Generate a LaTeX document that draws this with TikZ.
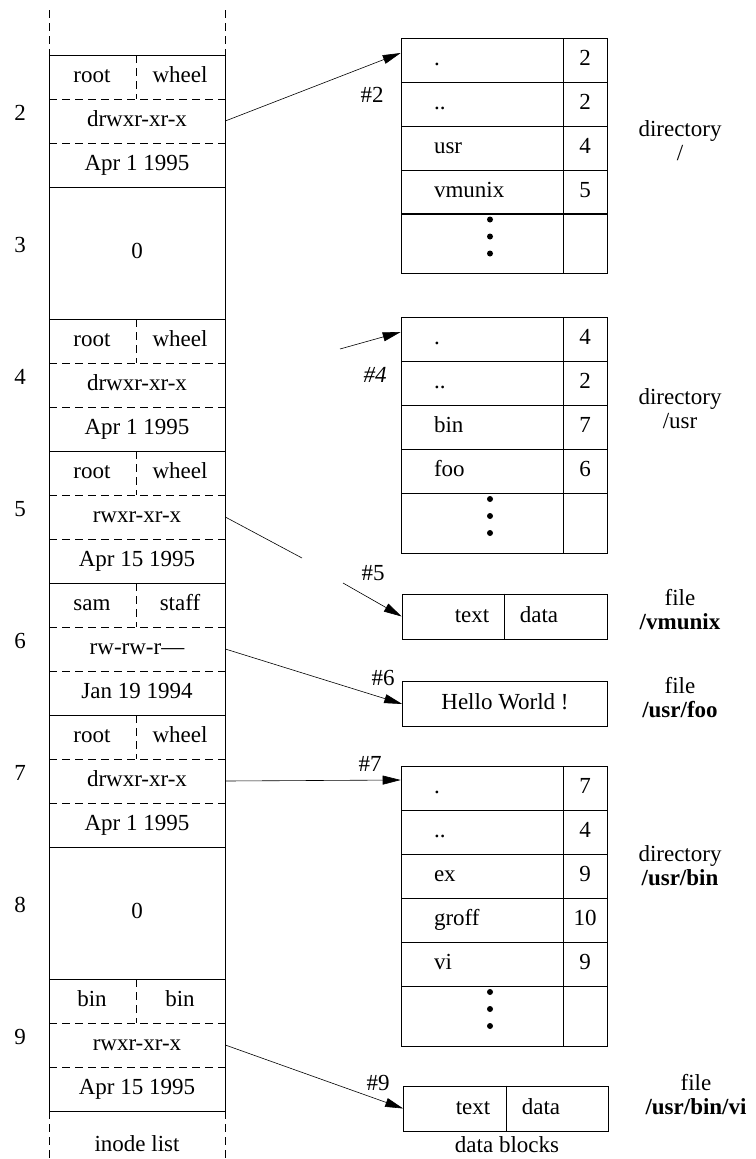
\documentclass[tikz,border=0pt]{standalone}
\usepackage{fontspec}
\setmainfont{Liberation Serif}
\usetikzlibrary{arrows.meta}

\begin{document}
\begin{tikzpicture}[
    x=1pt, y=-1pt,
    font=\fontsize{23}{27}\selectfont,
    line width=0.6pt,
    >={Triangle[length=18pt,width=9pt]},
    txt/.style={
        inner sep=0pt,
        text height=16pt,
        text depth=5pt
    },
    inode/.style={
        draw,
        txt,
        minimum width=176pt,
        minimum height=132pt
    },
    sep/.style={dash pattern=on 8pt off 5pt},
    dname/.style={
        draw,
        txt,
        inner xsep=33pt,
        text width=96pt,
        minimum height=44pt,
        align=left
    },
    dnum/.style={
        draw,
        txt,
        minimum width=44pt,
        minimum height=44pt
    },
    dmore/.style={draw, minimum width=162pt, minimum height=60pt},
    dnummore/.style={draw, minimum width=44pt, minimum height=60pt},
    fblock/.style={
        draw,
        txt,
        minimum width=205pt,
        minimum height=45pt
    },
    lbl/.style={
        align=center,
        inner sep=0pt,
        font=\fontsize{23}{24}\selectfont
    },
    arr/.style={->}
]
\useasboundingbox (0,0) rectangle (755,1159);

% inode list
\node[inode] (ino2) at (137,121) {};
\node[inode] (ino3) at (137,253) {0};
\node[inode] (ino4) at (137,385) {};
\node[inode] (ino5) at (137,517) {};
\node[inode] (ino6) at (137,649) {};
\node[inode] (ino7) at (137,781) {};
\node[inode] (ino8) at (137,913) {0};
\node[inode] (ino9) at (137,1045) {};

\draw[sep] (49,10) -- (49,55);
\draw[sep] (225,10) -- (225,55);
\draw[sep] (49,1111) -- (49,1159);
\draw[sep] (225,1111) -- (225,1159);

% field separators
\draw[sep] (49,99) -- (225,99);
\draw[sep] (49,143) -- (225,143);
\draw[sep] (136,55) -- (136,99);
\draw[sep] (49,363) -- (225,363);
\draw[sep] (49,407) -- (225,407);
\draw[sep] (136,319) -- (136,363);
\draw[sep] (49,495) -- (225,495);
\draw[sep] (49,539) -- (225,539);
\draw[sep] (136,451) -- (136,495);
\draw[sep] (49,627) -- (225,627);
\draw[sep] (49,671) -- (225,671);
\draw[sep] (136,583) -- (136,627);
\draw[sep] (49,759) -- (225,759);
\draw[sep] (49,803) -- (225,803);
\draw[sep] (136,715) -- (136,759);
\draw[sep] (49,1023) -- (225,1023);
\draw[sep] (49,1067) -- (225,1067);
\draw[sep] (136,979) -- (136,1023);

% inode fields
\node[txt] (own2) at (92,77) {root};
\node[txt] (grp2) at (180,77) {wheel};
\node[txt] (perm2) at (137,121) {drwxr-xr-x};
\node[txt] (date2) at (137,165) {Apr 1 1995};

\node[txt] (own4) at (92,341) {root};
\node[txt] (grp4) at (180,341) {wheel};
\node[txt] (perm4) at (137,385) {drwxr-xr-x};
\node[txt] (date4) at (137,429) {Apr 1 1995};

\node[txt] (own5) at (92,473) {root};
\node[txt] (grp5) at (180,473) {wheel};
\node[txt] (perm5) at (137,517) {rwxr-xr-x};
\node[txt] (date5) at (137,561) {Apr 15 1995};

\node[txt] (own6) at (92,605) {sam};
\node[txt] (grp6) at (180,605) {staff};
\node[txt] (perm6) at (137,649) {rw-rw-r---};
\node[txt] (date6) at (137,693) {Jan 19 1994};

\node[txt] (own7) at (92,737) {root};
\node[txt] (grp7) at (180,737) {wheel};
\node[txt] (perm7) at (137,781) {drwxr-xr-x};
\node[txt] (date7) at (137,825) {Apr 1 1995};

\node[txt] (own9) at (92,1001) {bin};
\node[txt] (grp9) at (180,1001) {bin};
\node[txt] (perm9) at (137,1045) {rwxr-xr-x};
\node[txt] (date9) at (137,1089) {Apr 15 1995};

% inode numbers
\node[txt] (num2) at (20,115) {2};
\node[txt] (num3) at (20,247) {3};
\node[txt] (num4) at (20,379) {4};
\node[txt] (num5) at (20,511) {5};
\node[txt] (num6) at (20,643) {6};
\node[txt] (num7) at (20,775) {7};
\node[txt] (num8) at (20,907) {8};
\node[txt] (num9) at (20,1039) {9};

\node[txt] (ilist) at (137,1146) {inode list};

% directory /
\node[dname] (root1) at (482,60) {.};
\node[dnum] (rootn1) at (585,60) {2};
\node[dname] (root2) at (482,104) {..};
\node[dnum] (rootn2) at (585,104) {2};
\node[dname] (root3) at (482,148) {usr};
\node[dnum] (rootn3) at (585,148) {4};
\node[dname] (root4) at (482,192) {vmunix};
\node[dnum] (rootn4) at (585,192) {5};
\node[dmore] (rootmore) at (482,243.5) {};
\node[dnummore] (rootnmore) at (585,243.5) {};

% directory /usr
\node[dname] (usr1) at (482,339) {.};
\node[dnum] (usrn1) at (585,339) {4};
\node[dname] (usr2) at (482,383) {..};
\node[dnum] (usrn2) at (585,383) {2};
\node[dname] (usr3) at (482,427) {bin};
\node[dnum] (usrn3) at (585,427) {7};
\node[dname] (usr4) at (482,471) {foo};
\node[dnum] (usrn4) at (585,471) {6};
\node[dmore] (usrmore) at (482,523) {};
\node[dnummore] (usrnmore) at (585,523) {};

% file /vmunix
\node[fblock] (vmunix) at (504.5,616.5) {};
\draw (vmunix.north) -- (vmunix.south);
\node[txt] (vmtext) at (472,616.5) {text};
\node[txt] (vmdata) at (539,616.5) {data};

% file /usr/foo
\node[fblock] (foo) at (505,704) {Hello World !};

% directory /usr/bin
\node[dname] (bin1) at (482,788) {.};
\node[dnum] (binn1) at (585,788) {7};
\node[dname] (bin2) at (482,832) {..};
\node[dnum] (binn2) at (585,832) {4};
\node[dname] (bin3) at (482,876) {ex};
\node[dnum] (binn3) at (585,876) {9};
\node[dname] (bin4) at (482,920) {groff};
\node[dnum] (binn4) at (585,920) {10};
\node[dname] (bin5) at (482,964) {vi};
\node[dnum] (binn5) at (585,964) {9};
\node[dmore] (binmore) at (482,1016) {};
\node[dnummore] (binnmore) at (585,1016) {};

% file /usr/bin/vi
\node[fblock] (vi) at (506,1108.5) {};
\draw (vi.north) -- (vi.south);
\node[txt] (vitext) at (473,1108.5) {text};
\node[txt] (vidata) at (541,1108.5) {data};

\node[txt] (dblocks) at (507,1147) {data blocks};

% more entries
\foreach \dy in {-24,-7,10} {
    \fill ([shift={(8,\dy)}]rootmore.center) circle (3pt);
    \fill ([shift={(8,\dy)}]usrmore.center) circle (3pt);
    \fill ([shift={(8,\dy)}]binmore.center) circle (3pt);
}

% kinds
\node[lbl] (kind2) at (680,141) {directory\\/};
\node[lbl] (kind4) at (680,409) {directory\\/usr};
\node[lbl] (kind5) at (680,610) {file\\\textbf{/vmunix}};
\node[lbl] (kind6) at (680,698) {file\\\textbf{/usr/foo}};
\node[lbl] (kind7) at (680,866) {directory\\\textbf{/usr/bin}};
\node[lbl] (kind9) at (696,1095) {file\\\textbf{/usr/bin/vi}};

% links
\coordinate (loose4) at (340,349);
\coordinate (cut5a) at (302,558);
\coordinate (cut5b) at (343,583);

\draw[arr] (ino2.east) -- ([yshift=7pt]root1.west);
\draw[arr] (loose4) -- ([yshift=7pt]usr1.west);
\draw (ino5.east) -- (cut5a);
\draw[arr] (cut5b) -- (vmunix.west);
\draw[arr] (ino6.east) -- (foo.west);
\draw[arr] (ino7.east) -- ([yshift=8pt]bin1.west);
\draw[arr] (ino9.east) -- (vi.west);

\node[txt] (hash2) at (372,97) {\#2};
\node[txt] (hash4) at (375,377) {\textit{\#4}};
\node[txt] (hash5) at (373,575) {\#5};
\node[txt] (hash6) at (383,680) {\#6};
\node[txt] (hash7) at (370,766) {\#7};
\node[txt] (hash9) at (378,1085) {\#9};

\end{tikzpicture}
\end{document}
